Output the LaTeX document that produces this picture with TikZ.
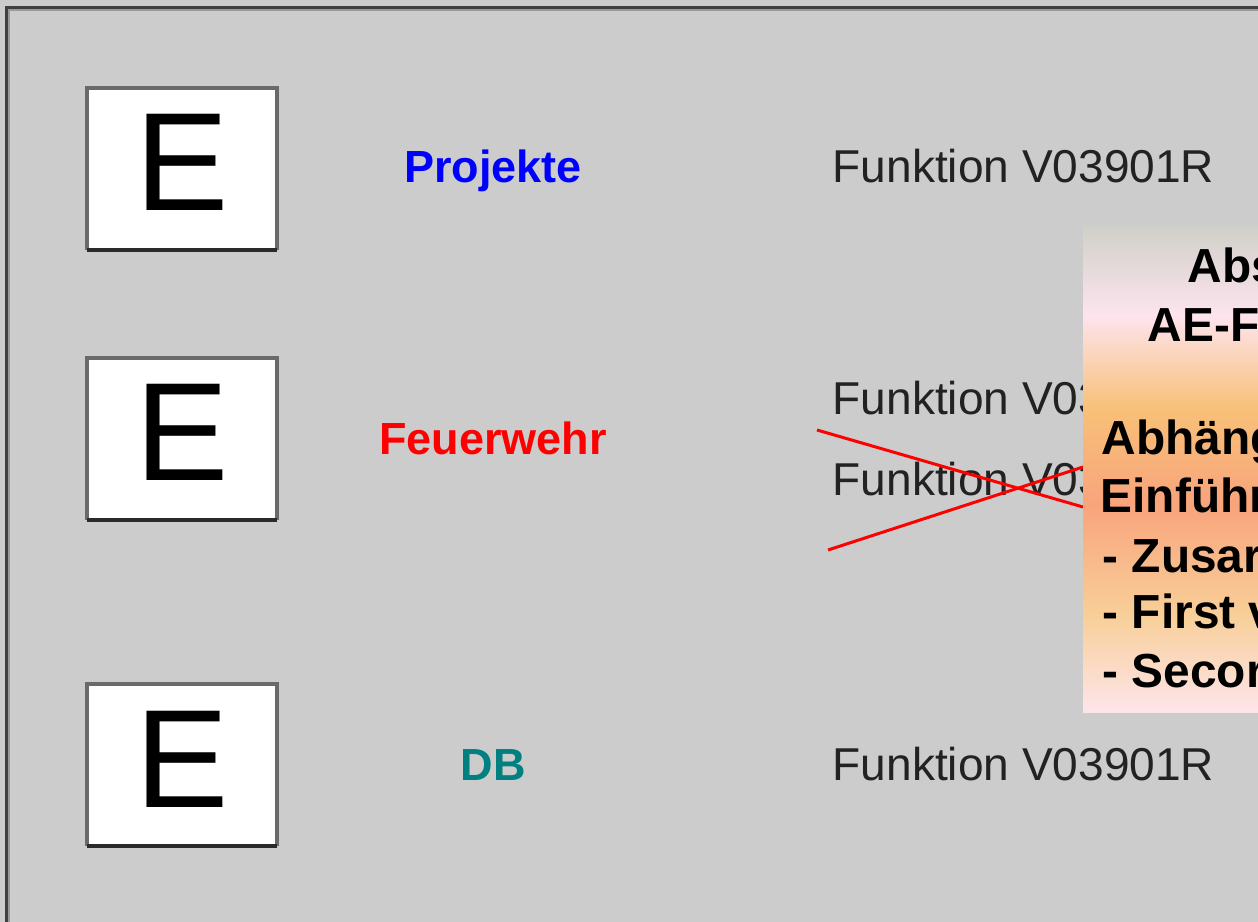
\documentclass[tikz,border=0pt]{standalone}
\usepackage{fontspec}
\setmainfont{Liberation Sans}
\usetikzlibrary{positioning}

\definecolor{bggray}{HTML}{CCCCCC}
\definecolor{framedark}{HTML}{404040}
\definecolor{framelight}{HTML}{9A9A9A}
\definecolor{boxgray}{HTML}{6A6A6A}
\definecolor{boxdark}{HTML}{2A2A2A}
\definecolor{funkgray}{HTML}{222222}
\definecolor{dbteal}{HTML}{008080}
\definecolor{aegray}{HTML}{D0D0C8}
\definecolor{aepink}{HTML}{FDE4EE}
\definecolor{aeorange}{HTML}{F8C078}
\definecolor{aesalmon}{HTML}{F8A47C}
\definecolor{aelorange}{HTML}{F8CF98}
\definecolor{aepinktwo}{HTML}{FDE4E8}

\pgfdeclareverticalshading{aeshade}{100bp}{color(0bp)=(aepinktwo); color(25.3bp)=(aepinktwo);
  color(35bp)=(aelorange); color(46.3bp)=(aesalmon); color(56.2bp)=(aeorange);
  color(65.85bp)=(aepink); color(75bp)=(aegray); color(100bp)=(aegray)}

\begin{document}
\begin{tikzpicture}[x=0.01cm,y=-0.01cm,
  etext/.style={anchor=base,inner sep=0pt,font=\fontsize{39.8}{44}\selectfont},
  grouplabel/.style={anchor=base,inner sep=0pt,font=\bfseries\fontsize{12.8}{15}\selectfont},
  funk/.style={anchor=base west,inner sep=0pt,text=funkgray,font=\fontsize{13.1}{15}\selectfont},
  boxtxt/.style={anchor=base west,inner sep=0pt,font=\bfseries\fontsize{13.6}{16}\selectfont},
  cross/.style={red,line width=0.85pt}]

\useasboundingbox (0,0) rectangle (1258,922);
\clip (0,0) rectangle (1258,922);
\fill[bggray] (0,0) rectangle (1258,922);

% frame
\draw[framedark,line width=0.85pt] (6.5,922) -- (6.5,7.5) -- (1258,7.5);
\draw[framelight,line width=0.5pt] (9,922) -- (9,10) -- (1258,10);

% E boxes
\foreach \name/\yy in {eproj/88, efeuer/358, edb/684} {
  \fill[white] (87,\yy) rectangle (277,\yy+162);
  \draw[boxgray,line width=1.1pt] (87,\yy+162) -- (87,\yy) -- (277,\yy) -- (277,\yy+162);
  \draw[boxdark,line width=1.1pt] (87,\yy+162) -- (277,\yy+162);
  \node[etext] (\name) at (182,\yy+123) {E};
}

% group labels
\node[grouplabel,blue] (projekte) at (493,183) {Projekte};
\node[grouplabel,red] (feuerwehr) at (493,455) {Feuerwehr};
\node[grouplabel,dbteal] (db) at (493,780) {DB};

% functions
\node[funk] (funka) at (832,183) {Funktion V03901R};
\node[funk] (funkb) at (832,415) {Funktion V03901R};
\node[funk] (funkc) at (832,496) {Funktion V03901R};
\node[funk] (funkd) at (832,780) {Funktion V03901R};

\draw[cross] (817,430) -- (1083,507);
\draw[cross] (828,550) -- (1083,467);

% note box
\shade[shading=aeshade] (1083,226) rectangle (1270,712);
\node[boxtxt] (abs) at (1187,283) {Abs};
\node[boxtxt] (aef) at (1147,342) {AE-F};
\node[boxtxt] (abh) at (1101,455) {Abhäng};
\node[boxtxt] (einf) at (1100,513) {Einführ};
\node[boxtxt] (zus) at (1102,572) {- Zusar};
\node[boxtxt] (first) at (1102,628) {- First v};
\node[boxtxt] (second) at (1102,687) {- Secor};

\end{tikzpicture}
\end{document}
